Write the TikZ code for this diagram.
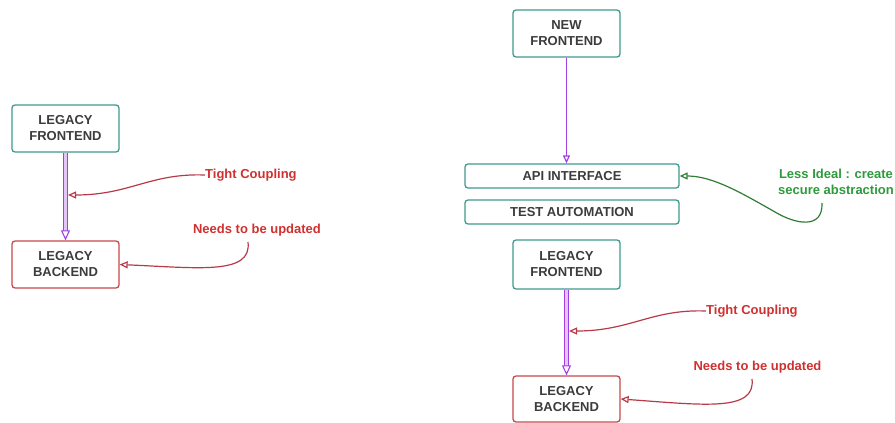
\documentclass[tikz,border=0pt]{standalone}
\usepackage{fontspec}
\setmainfont{Liberation Sans}
\usetikzlibrary{arrows.meta}
\definecolor{teal1}{HTML}{3E9A8C}
\definecolor{redbox}{HTML}{C8484A}
\definecolor{redtxt}{HTML}{D0302F}
\definecolor{redline}{HTML}{B83A48}
\definecolor{greentxt}{HTML}{2E9A3C}
\definecolor{greenline}{HTML}{2E7D32}
\definecolor{purp}{HTML}{A23FE0}
\definecolor{purpl}{HTML}{E3C6F7}
\definecolor{boxtxt}{HTML}{3C3C3C}
\tikzset{
  box/.style={draw=teal1, line width=1.3pt, rounded corners=3pt, fill=white,
    font=\fontsize{13}{16}\selectfont\bfseries, text=boxtxt, align=center,
    minimum width=107pt, inner sep=0pt},
  redbox/.style={box, draw=redbox},
  widebox/.style={box, minimum width=214pt, minimum height=24pt},
  note/.style={font=\fontsize{13}{16}\selectfont\bfseries, text=redtxt, inner sep=0pt},
  gnote/.style={note, text=greentxt, align=center},
  tip/.style={-{Triangle[open, length=8pt, width=7pt]}},
  rcurve/.style={draw=redline, line width=1.2pt, tip},
  gcurve/.style={draw=greenline, line width=1.2pt, tip},
  sarrow/.style={draw=purp, line width=1.2pt, tip},
  darrow/.style={draw=purp, line width=1.1pt, double=purpl, double distance=2.4pt,
    -{Triangle[open, length=10pt, width=9pt]}}
}
\begin{document}
\begin{tikzpicture}[x=1pt, y=-1pt]
\useasboundingbox (0,0) rectangle (895,423);
% left
\node[box, minimum height=47pt] (lf1) at (65.5,128.5) {LEGACY\\FRONTEND};
\node[redbox, minimum height=47pt] (lb1) at (65.5,264.5) {LEGACY\\BACKEND};
\draw[darrow] (lf1.south) -- (lb1.north);
\node[note, anchor=west] (tc1) at (205,175) {Tight Coupling};
\coordinate (tc1t) at (68,195);
\draw[rcurve] (tc1.west) .. controls (150,173) and (130,195) .. (tc1t);
\node[note] (nu1) at (257,230) {Needs to be updated};
\coordinate (nu1s) at (248,242);
\draw[rcurve] (nu1s) .. controls (252,275) and (200,268) .. (lb1.east);
% right
\node[box, minimum height=47pt] (nf) at (566.5,33.5) {NEW\\FRONTEND};
\node[widebox] (api) at (572,176) {API INTERFACE};
\node[widebox] (ta) at (572,212) {TEST AUTOMATION};
\draw[sarrow] (nf.south) -- (api.north -| nf.south);
\node[box, minimum height=49pt] (lf2) at (566.5,264.5) {LEGACY\\FRONTEND};
\node[redbox, minimum height=46pt] (lb2) at (566.5,399) {LEGACY\\BACKEND};
\draw[darrow] (lf2.south) -- (lb2.north);
\node[gnote] (li) at (836,182) {Less Ideal : create\\secure abstraction};
\coordinate (lis) at (822,203);
\draw[gcurve] (lis) .. controls (823,230) and (795,224) .. (775,212) .. controls (740,192) and (712,176) .. (api.east);
\node[note, anchor=west] (tc2) at (706,311) {Tight Coupling};
\coordinate (tc2t) at (569,331);
\draw[rcurve] (tc2.west) .. controls (651,309) and (631,331) .. (tc2t);
\node[note] (nu2) at (757.5,367) {Needs to be updated};
\coordinate (nu2s) at (752,379);
\draw[rcurve] (nu2s) .. controls (756,412) and (704,405) .. (lb2.east);
\end{tikzpicture}
\end{document}
